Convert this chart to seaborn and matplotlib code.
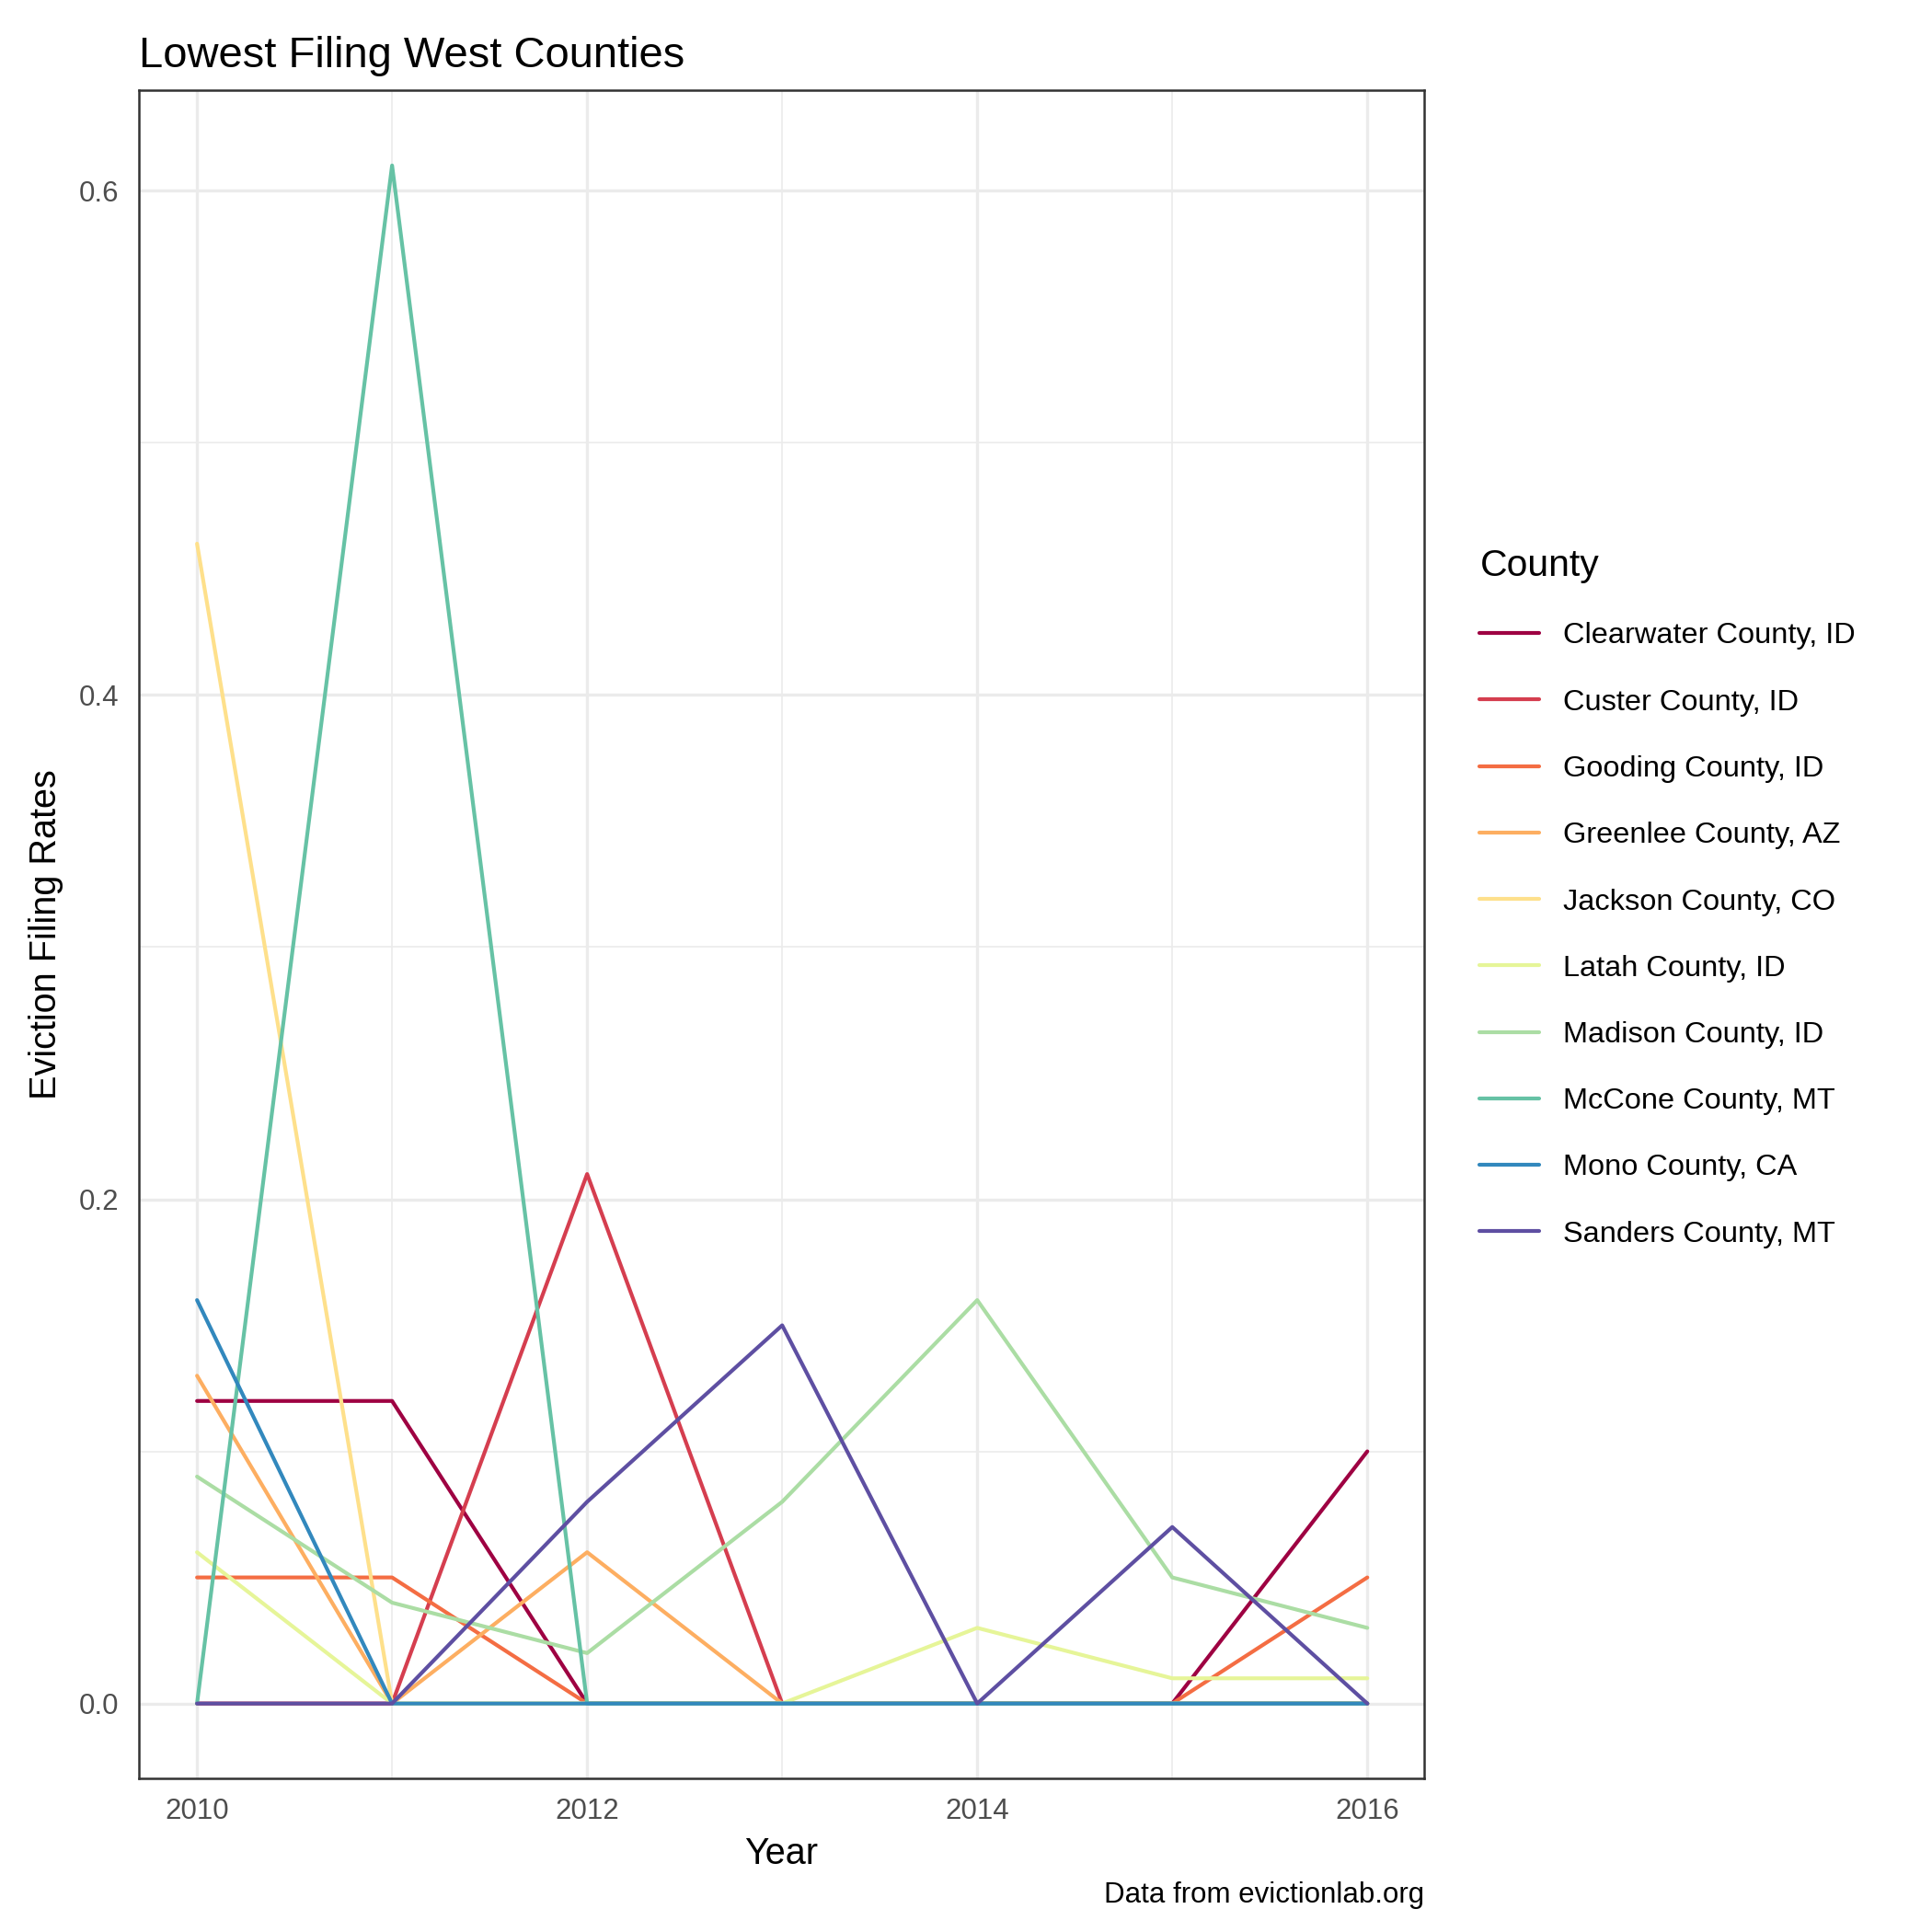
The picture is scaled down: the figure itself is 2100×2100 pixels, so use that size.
import matplotlib
matplotlib.use("Agg")
import matplotlib.pyplot as plt
import seaborn as sns
import pandas as pd
from matplotlib.ticker import MultipleLocator

years = [2010, 2011, 2012, 2013, 2014, 2015, 2016]
counties = ["Clearwater County, ID", "Custer County, ID", "Gooding County, ID", "Greenlee County, AZ",
            "Jackson County, CO", "Latah County, ID", "Madison County, ID", "McCone County, MT",
            "Mono County, CA", "Sanders County, MT"]
clearwater = [0.12, 0.12, 0, 0, 0, 0, 0.10]
custer = [0, 0, 0.21, 0, 0, 0, 0]
gooding = [0.05, 0.05, 0, 0, 0, 0, 0.05]
greenlee = [0.13, 0, 0.06, 0, 0, 0, 0]
jackson = [0.46, 0, 0, 0, 0, 0, 0]
latah = [0.06, 0, 0, 0, 0.03, 0.01, 0.01]
madison = [0.09, 0.04, 0.02, 0.08, 0.16, 0.05, 0.03]
mccone = [0, 0.61, 0, 0, 0, 0, 0]
mono = [0.16, 0, 0, 0, 0, 0, 0]
sanders = [0, 0, 0.08, 0.15, 0, 0.07, 0]
series = [clearwater, custer, gooding, greenlee, jackson, latah, madison, mccone, mono, sanders]
colors = ["#9E0142", "#D53E4F", "#F46D43", "#FDAE61", "#FEE08B", "#E6F598",
          "#ABDDA4", "#66C2A5", "#3288BD", "#5E4FA2"]

rows = []
for c, vals in zip(counties, series):
    for y, v in zip(years, vals):
        rows.append({"Year": y, "Rate": v, "County": c})
df = pd.DataFrame(rows)

sns.set_theme(style="white")
plt.rcParams['font.family'] = ['Liberation Sans', 'DejaVu Sans']
plt.rcParams['text.color'] = 'black'
plt.rcParams['axes.labelcolor'] = 'black'

fig = plt.figure(figsize=(7, 7), dpi=300)
ax = fig.add_axes([0.0717, 0.0795, 0.7370 - 0.0717, 0.9535 - 0.0795])
sns.lineplot(data=df, x="Year", y="Rate", hue="County", hue_order=counties,
             palette=colors, linewidth=1.0, ax=ax, legend=True)
ax.set_xlim(2009.7, 2016.29)
ax.set_ylim(-0.0297, 0.640)
ax.xaxis.set_major_locator(MultipleLocator(2))
ax.xaxis.set_minor_locator(MultipleLocator(1))
ax.yaxis.set_major_locator(MultipleLocator(0.2))
ax.yaxis.set_minor_locator(MultipleLocator(0.1))
ax.yaxis.set_major_formatter(matplotlib.ticker.FormatStrFormatter('%.1f'))
ax.grid(which="major", color="#EBEBEB", linewidth=0.8)
ax.grid(which="minor", color="#EBEBEB", linewidth=0.4)
ax.set_axisbelow(True)
for s in ax.spines.values():
    s.set_color("#333333"); s.set_linewidth(0.6)
ax.tick_params(which="major", length=3, width=0.6, color="#333333", labelsize=7.5, labelcolor="#4D4D4D", pad=2)
ax.tick_params(which="minor", length=0)
ax.set_xlabel("Year", fontsize=9.5, labelpad=3, color="black")
ax.set_ylabel("Eviction Filing Rates", fontsize=9.5, labelpad=4, color="black")
ax.set_title("Lowest Filing West Counties", fontsize=11.3, loc="left", pad=6, color="black")

h, l = ax.get_legend_handles_labels()
ax.get_legend().remove()
leg = fig.legend(h, l, title="County", loc="center left", bbox_to_anchor=(0.752, 0.535),
                 frameon=False, fontsize=7.8, title_fontsize=9.8, handlelength=2.0,
                 labelspacing=1.3, alignment="left")
for t in leg.get_texts():
    t.set_color("black")
leg.get_title().set_color("black")
fig.text(0.737, 0.012, "Data from evictionlab.org", ha="right", va="bottom", fontsize=7.5, color="black")
fig.savefig("out.png", dpi=300)
